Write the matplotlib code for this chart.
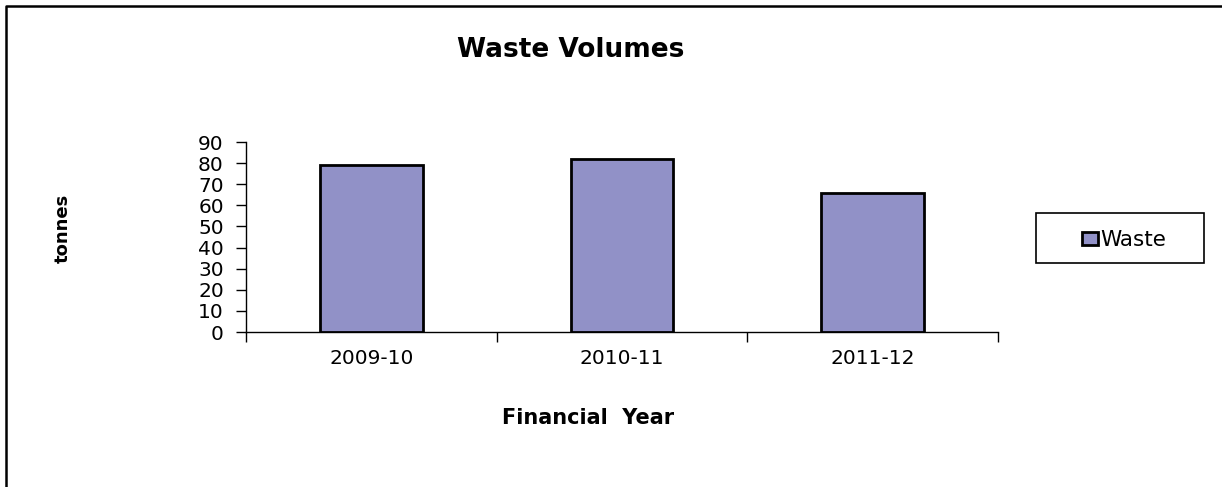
import matplotlib.pyplot as plt
from matplotlib.lines import Line2D
from matplotlib.patches import Rectangle

# data
years = ['2009-10', '2010-11', '2011-12']
waste = [79, 82, 66]
yticks = [0, 10, 20, 30, 40, 50, 60, 70, 80, 90]

plt.rcParams['font.family'] = ['DejaVu Sans']

fig = plt.figure(figsize=(12.22, 4.87), dpi=100)
ax = fig.add_axes([246/1222, 155/487, 752/1222, 190/487])

pos = list(range(len(years)))
bars = ax.bar(pos, waste, width=0.41, color='#9191c7', edgecolor='black',
              linewidth=2.0, label='Waste', zorder=3)

ax.set_xlim(-0.5, len(years) - 0.5)
ax.set_ylim(0, 90)
ax.set_yticks(yticks)
ax.tick_params(axis='y', direction='out', length=7, width=1, pad=9,
               labelsize=14.5)

# category boundaries as major ticks, labels on minor ticks
ax.set_xticks([p - 0.5 for p in pos] + [pos[-1] + 0.5])
ax.set_xticklabels([])
ax.set_xticks(pos, minor=True)
ax.set_xticklabels(years, minor=True)
ax.tick_params(axis='x', which='major', direction='out', length=7, width=1)
ax.tick_params(axis='x', which='minor', length=0, pad=12, labelsize=14.5)

for s in ['top', 'right']:
    ax.spines[s].set_visible(False)
for s in ['left', 'bottom']:
    ax.spines[s].set_linewidth(1.0)
ax.spines['left'].set_bounds(0, 90)

fig.text(571/1222, 1 - 50/487, 'Waste Volumes', ha='center', va='center',
         fontsize=19, fontweight='bold')
fig.text(588/1222, 1 - 418/487, 'Financial  Year', ha='center', va='center',
         fontsize=15, fontweight='bold')
fig.text(63/1222, 1 - 228/487, 'tonnes', ha='center', va='center',
         rotation=90, fontsize=13, fontweight='bold')

# legend box
fig.add_artist(Rectangle((1036/1222, 1 - 263/487), 168/1222, 50/487,
                         transform=fig.transFigure, facecolor='white',
                         edgecolor='black', linewidth=1.2))
fig.legend(handles=[bars], labels=['Waste'], loc='center',
           bbox_to_anchor=(1124/1222, 1 - 240/487), frameon=False,
           fontsize=15.5, handlelength=0.75, handleheight=0.6,
           handletextpad=0.1)

# outer border (left and top only, as in the image)
fig.add_artist(Line2D([5.5/1222, 5.5/1222, 1.0], [0.0, 1 - 6/487, 1 - 6/487],
                      transform=fig.transFigure, color='black', linewidth=1.8))

fig.savefig('out.png', dpi=100)
